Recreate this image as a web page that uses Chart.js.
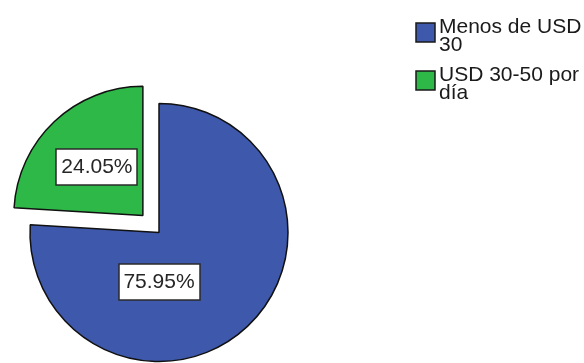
<!DOCTYPE html>
<html>
<head>
<meta charset="utf-8">
<script src="https://cdn.jsdelivr.net/npm/chart.js@4/dist/chart.umd.min.js"></script>
<style>
    html, body { margin: 0; padding: 0; background: #fff; overflow: hidden; }
    #wrap { position: relative; width: 584px; height: 363px; }
</style>
</head>
<body>
<div id="wrap"><canvas id="pieChart" width="584" height="363"></canvas></div>
<script>
// ===== DATA =====
const categories = ['Menos de USD 30', 'USD 30-50 por día'];
const shares = [75.95, 24.05];
const sliceColors = ['#3E58AC', '#2EB848'];
const pulledOut = [0, 94];          // arc offset, drawn as offset / 4 px

// label spot per slice: canvas angle in degrees (null = slice middle), distance as part of radius
const labelDir = [90, null];
const labelDist = [0.38, 0.52];

const FONT = '21px "Liberation Sans", Arial, sans-serif';

// ===== PERCENT LABELS =====
const percentLabels = {
    id: 'percentLabels',
    afterDatasetsDraw(chart) {
        const ctx = chart.ctx;
        const meta = chart.getDatasetMeta(0);
        ctx.save();
        ctx.font = FONT;
        ctx.textAlign = 'center';
        ctx.textBaseline = 'middle';
        meta.data.forEach((arc, i) => {
            const p = arc.getProps(['x', 'y', 'startAngle', 'endAngle', 'outerRadius']);
            const mid = (p.startAngle + p.endAngle) / 2;
            const shift = pulledOut[i] / 4;
            const cx = p.x + Math.cos(mid) * shift;
            const cy = p.y + Math.sin(mid) * shift;
            const a = labelDir[i] === null ? mid : labelDir[i] * Math.PI / 180;
            const lx = cx + Math.cos(a) * p.outerRadius * labelDist[i];
            const ly = cy + Math.sin(a) * p.outerRadius * labelDist[i];
            const text = shares[i].toFixed(2) + '%';
            const w = Math.round(ctx.measureText(text).width) + 10;
            const h = 36;
            const bx = Math.round(lx - w / 2);
            const by = Math.round(ly - h / 2);
            ctx.fillStyle = '#fff';
            ctx.fillRect(bx, by, w, h);
            ctx.strokeStyle = '#2a2a2a';
            ctx.lineWidth = 1.5;
            ctx.strokeRect(bx, by, w, h);
            ctx.fillStyle = '#262626';
            ctx.fillText(text, lx, ly + 1);
        });
        ctx.restore();
    }
};

// ===== LEGEND =====
function wrapWords(ctx, text, maxWidth) {
    const words = text.split(' ');
    const lines = [];
    let line = '';
    words.forEach(word => {
        const test = line ? line + ' ' + word : word;
        if (line && ctx.measureText(test).width > maxWidth) {
            lines.push(line);
            line = word;
        } else {
            line = test;
        }
    });
    if (line) lines.push(line);
    return lines;
}

const sideLegend = {
    id: 'sideLegend',
    afterDraw(chart) {
        const ctx = chart.ctx;
        const boxX = 416, textX = 439, boxSize = 19;
        let top = 18;
        ctx.save();
        ctx.font = FONT;
        ctx.textAlign = 'left';
        ctx.textBaseline = 'alphabetic';
        chart.data.labels.forEach((label, i) => {
            const lines = wrapWords(ctx, label, 146);
            ctx.fillStyle = sliceColors[i];
            ctx.fillRect(boxX, top + 5, boxSize, boxSize);
            ctx.strokeStyle = '#1a1a1a';
            ctx.lineWidth = 1.5;
            ctx.strokeRect(boxX, top + 5, boxSize, boxSize);
            ctx.fillStyle = '#1a1a1a';
            lines.forEach((ln, k) => ctx.fillText(ln, textX, top + 15 + k * 18));
            top += 48;
        });
        ctx.restore();
    }
};

// ===== CHART =====
new Chart(document.getElementById('pieChart'), {
    type: 'pie',
    data: {
        labels: categories,
        datasets: [{
            data: shares,
            backgroundColor: sliceColors,
            borderColor: '#111',
            borderWidth: 1.5,
            offset: pulledOut,
            clip: false
        }]
    },
    options: {
        responsive: false,
        animation: false,
        radius: 129,
        layout: { padding: { left: 0, right: 266, top: 102, bottom: 0 } },
        plugins: {
            legend: { display: false },
            tooltip: { enabled: false }
        }
    },
    plugins: [percentLabels, sideLegend]
});
</script>
</body>
</html>
